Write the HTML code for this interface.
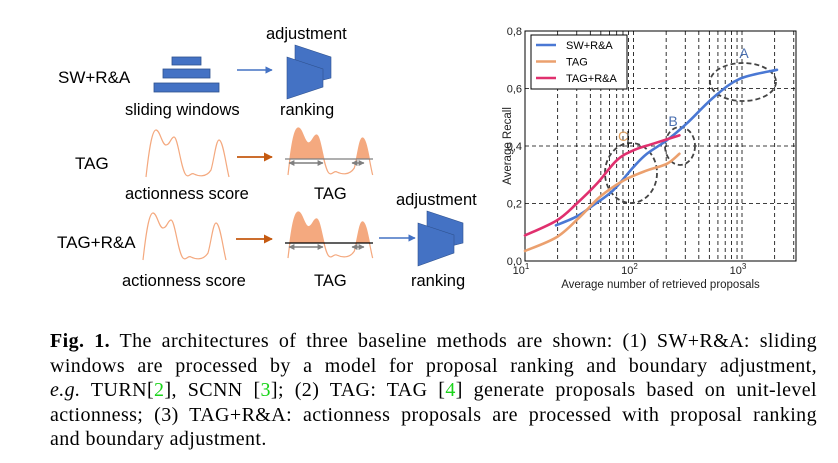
<!DOCTYPE html>
<html><head><meta charset="utf-8">
<style>
html,body{margin:0;padding:0;background:#fff;}
body{width:838px;height:463px;position:relative;overflow:hidden;font-family:"Liberation Sans",sans-serif;}
svg{position:absolute;left:0;top:0;}
.cap{position:absolute;left:50px;width:767px;font-family:"Liberation Serif",serif;font-size:20px;letter-spacing:0.4px;line-height:24px;color:#000;}
.cap div{height:24.5px;white-space:nowrap;}
.j{text-align:justify;text-align-last:justify;white-space:normal !important;}
.g{color:#1ad41a;}
</style></head>
<body>
<svg width="838" height="463" viewBox="0 0 838 463">
<defs>
<marker id="ab" viewBox="0 0 10 10" refX="9" refY="5" markerWidth="5" markerHeight="5" orient="auto"><path d="M0,0 L10,5 L0,10 z" fill="#4472c4"/></marker>
<marker id="ao" viewBox="0 0 10 10" refX="9" refY="5" markerWidth="5" markerHeight="5" orient="auto"><path d="M0,0 L10,5 L0,10 z" fill="#c55a11"/></marker>
<marker id="ag" viewBox="0 0 10 10" refX="9" refY="5" markerWidth="4" markerHeight="4" orient="auto-start-reverse"><path d="M0,0 L10,5 L0,10 z" fill="#7f7f7f"/></marker>
<path id="act" d="M0,47 C3,20 6,0 10,0 C14,0 16,15 20,15 C24,15 25,7 28,7 C32,7 35,40 40,45 C43,48 45,42 48,44 C52,46 60,48 65,40 C68,30 70,10 73,10 C77,10 80,35 83,47"/>
<clipPath id="clipT1" clipPathUnits="userSpaceOnUse"><rect x="280" y="100" width="100" height="59"/></clipPath>
<clipPath id="clipT2" clipPathUnits="userSpaceOnUse"><rect x="280" y="190" width="100" height="53"/></clipPath>
</defs>
<g font-size="16.5" fill="#000">
<text x="266" y="39">adjustment</text>
<text x="58" y="83" font-size="17">SW+R&amp;A</text>
<g fill="#4472c4" stroke="#2f528f" stroke-width="0.8">
<rect x="172" y="57" width="29" height="8"/><rect x="163" y="69" width="47" height="9"/><rect x="154" y="83" width="65" height="9"/></g>
<line x1="237" y1="70" x2="272" y2="70" stroke="#4472c4" stroke-width="1.5" marker-end="url(#ab)"/>
<g fill="#4472c4" stroke="#2f528f" stroke-width="0.6">
<polygon points="295,45 331,57 331,78 295,87"/><polygon points="287,57 323,69 323,87 287,99"/></g>
<text x="125" y="115">sliding windows</text>
<text x="280" y="115">ranking</text>

<text x="75" y="169" font-size="17">TAG</text>
<use href="#act" transform="translate(146,130)" fill="none" stroke="#f4a97f" stroke-width="1.2"/>
<line x1="237" y1="157" x2="272" y2="157" stroke="#c55a11" stroke-width="1.8" marker-end="url(#ao)"/>
<g>
<g clip-path="url(#clipT1)"><use href="#act" transform="translate(288,128) scale(1.02,1)" fill="#f4a97f"/></g>
<use href="#act" transform="translate(288,128) scale(1.02,1)" fill="none" stroke="#f4a97f" stroke-width="1.2"/>
<line x1="285" y1="159" x2="373" y2="159" stroke="#7f7f7f" stroke-width="1.3"/>
<line x1="289" y1="163" x2="323" y2="163" stroke="#7f7f7f" stroke-width="1.5" marker-start="url(#ag)" marker-end="url(#ag)"/>
<line x1="352" y1="163" x2="364" y2="163" stroke="#7f7f7f" stroke-width="1.5" marker-start="url(#ag)" marker-end="url(#ag)"/>
</g>
<text x="125" y="199">actionness score</text>
<text x="314" y="199">TAG</text>

<text x="396" y="205">adjustment</text>
<text x="57" y="248" font-size="17">TAG+R&amp;A</text>
<use href="#act" transform="translate(143,213)" fill="none" stroke="#f4a97f" stroke-width="1.2"/>
<line x1="236" y1="239" x2="272" y2="239" stroke="#c55a11" stroke-width="1.8" marker-end="url(#ao)"/>
<g>
<g clip-path="url(#clipT2)"><use href="#act" transform="translate(288,212) scale(1.02,0.98)" fill="#f4a97f"/></g>
<use href="#act" transform="translate(288,212) scale(1.02,0.98)" fill="none" stroke="#f4a97f" stroke-width="1.2"/>
<line x1="285" y1="243" x2="373" y2="243" stroke="#000" stroke-width="1.3"/>
<line x1="289" y1="247" x2="323" y2="247" stroke="#7f7f7f" stroke-width="1.5" marker-start="url(#ag)" marker-end="url(#ag)"/>
<line x1="352" y1="247" x2="364" y2="247" stroke="#7f7f7f" stroke-width="1.5" marker-start="url(#ag)" marker-end="url(#ag)"/>
</g>
<line x1="379" y1="238" x2="415" y2="238" stroke="#4472c4" stroke-width="1.5" marker-end="url(#ab)"/>
<g fill="#4472c4" stroke="#2f528f" stroke-width="0.6">
<polygon points="427,211 463,223 463,243 427,252"/><polygon points="418,223 454,235 454,253 418,266"/></g>
<text x="122" y="286">actionness score</text>
<text x="314" y="286">TAG</text>
<text x="411" y="286">ranking</text>
</g>
<g id="chart"></g>
</svg>

<div class="cap" style="top:329px">
<div class="j"><b>Fig. 1.</b> The architectures of three baseline methods are shown: (1) SW+R&amp;A: sliding</div>
<div class="j">windows are processed by a model for proposal ranking and boundary adjustment,</div>
<div class="j"><i>e.g.</i> TURN[<span class="g">2</span>], SCNN [<span class="g">3</span>]; (2) TAG: TAG [<span class="g">4</span>] generate proposals based on unit-level</div>
<div class="j">actionness; (3) TAG+R&amp;A: actionness proposals are processed with proposal ranking</div>
<div>and boundary adjustment.</div>
</div>

<script>
const seriesNames = ["SW+R&A", "TAG", "TAG+R&A"];
const swX = [19.3, 30, 42.6, 65, 100, 133, 203, 309, 550, 960, 2100];
const swY = [0.124, 0.155, 0.194, 0.246, 0.327, 0.373, 0.42, 0.478, 0.57, 0.634, 0.665];
const tagX = [10, 19.6, 32, 49, 81, 133, 203, 265];
const tagY = [0.035, 0.083, 0.153, 0.223, 0.28, 0.315, 0.338, 0.373];
const traX = [10, 19.6, 30, 46, 70, 100, 152, 265];
const traY = [0.089, 0.141, 0.2, 0.269, 0.35, 0.385, 0.408, 0.437];
const yTicks = [0, 0.2, 0.4, 0.6, 0.8];
const yTickLabels = ["0,0", "0,2", "0,4", "0,6", "0,8"];

const NS = "http://www.w3.org/2000/svg";
const L = 525, R = 796, T = 31, B = 261;
const xMinLog = 1, decadePx = 108.5;
function xs(v){ return L + (Math.log10(v) - xMinLog) * decadePx; }
function ys(v){ return B - v / 0.8 * (B - T); }
const g = document.getElementById("chart");
function mk(tag, attrs, parent){ const e = document.createElementNS(NS, tag); for (const k in attrs) e.setAttribute(k, attrs[k]); (parent||g).appendChild(e); return e; }

const gx = [];
for (let d = 10; d <= 1000; d *= 10) for (let m = 1; m <= 9; m++) { const v = d*m; if (xs(v) > L+0.5 && xs(v) < R) gx.push(v); }
gx.forEach(v => {
  const ln = mk("line", {x1: xs(v), x2: xs(v), y1: T, y2: B, stroke: "#000", "stroke-width": 0.8, "stroke-dasharray": "4,3"});
  
  
});
yTicks.slice(1, -1).forEach(v => {
  const ln = mk("line", {x1: L, x2: R, y1: ys(v), y2: ys(v), stroke: "#000", "stroke-width": 0.8, "stroke-dasharray": "4,3"});
  
  
});
const frame = mk("rect", {x: L, y: T, width: R-L, height: B-T, fill: "none", stroke: "#000", "stroke-width": 1});



yTicks.forEach((v, i) => {
  const t = mk("text", {x: L-3, y: ys(v)+4, "text-anchor": "end", "font-size": 11, fill: "#222"});
  t.textContent = yTickLabels[i];
  
  
});
[10, 100, 1000].forEach((v, i) => {
  const t = mk("text", {x: xs(v)-4, y: B+13, "text-anchor": "middle", "font-size": 11, fill: "#222"});
  t.textContent = "10";
  const s = mk("tspan", {dy: -5, "font-size": 8}, t); s.textContent = String(i+1);
  
  
});
const xl = mk("text", {x: (L+R)/2, y: B+27, "text-anchor": "middle", "font-size": 11.5, fill: "#222"});
xl.textContent = "Average number of retrieved proposals";


const yl = mk("text", {x: 0, y: 0, "text-anchor": "middle", "font-size": 11.5, fill: "#222", transform: `translate(511,${(T+B)/2}) rotate(-90)`});
yl.textContent = "Average Recall";



const ells = [[743,82,33,19,"ellipse-a"],[680,146,15,19,"ellipse-b"],[631,173,26,30,"ellipse-c"]];
ells.forEach(e => {
  const el = mk("ellipse", {cx: e[0], cy: e[1], rx: e[2], ry: e[3], fill: "none", stroke: "#444", "stroke-width": 1.8, "stroke-dasharray": "5,3"});
  
  
});
mk("line", {x1: 628, x2: 628, y1: 131, y2: 148, stroke: "#000", "stroke-width": 1});

function smooth(px){
  let d = "M" + px[0][0] + "," + px[0][1];
  for (let i = 0; i < px.length-1; i++) {
    const p0 = px[Math.max(i-1,0)], p1 = px[i], p2 = px[i+1], p3 = px[Math.min(i+2,px.length-1)];
    const c1 = [p1[0]+(p2[0]-p0[0])/6, p1[1]+(p2[1]-p0[1])/6];
    const c2 = [p2[0]-(p3[0]-p1[0])/6, p2[1]-(p3[1]-p1[1])/6];
    d += ` C${c1[0]},${c1[1]} ${c2[0]},${c2[1]} ${p2[0]},${p2[1]}`;
  }
  return d;
}
const colors = ["#4a78d4", "#eba06e", "#e0306e"];
const seriesData = [[swX, swY], [tagX, tagY], [traX, traY]];
const seriesIds = ["line-sw-ra", "line-tag", "line-tag-ra"];
seriesData.forEach((s, k) => {
  const px = s[0].map((x, i) => [xs(x), ys(s[1][i])]);
  const p = mk("path", {d: smooth(px), fill: "none", stroke: colors[k], "stroke-width": 2.6, "stroke-linecap": "round"});
  
  
});

[["A",744,58,"#4a6fb0"],["B",673,126,"#4a6fb0"],["C",623,141,"#e0a060"]].forEach(a => {
  const t = mk("text", {x: a[1], y: a[2], "text-anchor": "middle", "font-size": 14, fill: a[3]});
  t.textContent = a[0];
  
  
});

const lg = mk("g", {});


mk("rect", {x: 531, y: 35, width: 96, height: 54, fill: "#fff", stroke: "#000", "stroke-width": 1}, lg);
seriesNames.forEach((n, i) => {
  const y = 45 + i * 16.5;
  const ln = mk("line", {x1: 536, x2: 556, y1: y, y2: y, stroke: colors[i], "stroke-width": 2.6}, lg);
  
  
  const t = mk("text", {x: 566, y: y+4, "font-size": 11, fill: "#000"}, lg);
  t.textContent = n;
  
  
});
</script>
</body></html>
